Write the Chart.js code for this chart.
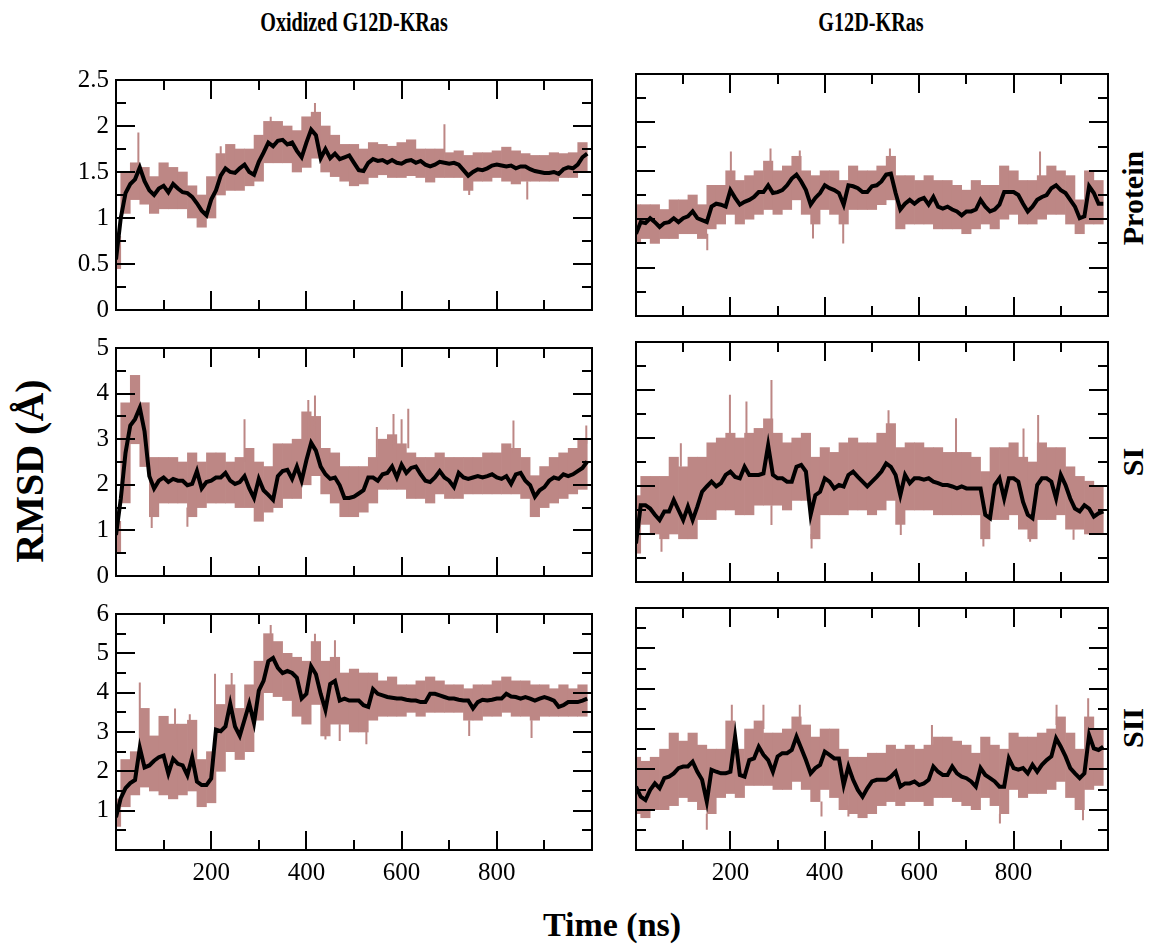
<!DOCTYPE html>
<html><head><meta charset="utf-8">
<script src="https://cdn.jsdelivr.net/npm/chart.js@4.4.0/dist/chart.umd.min.js"></script>
<style>
html,body{margin:0;padding:0;background:#fff;}
#wrap{position:relative;width:1151px;height:949px;overflow:hidden;background:#fff;}
canvas{position:absolute;}
.t{position:absolute;font-family:'Liberation Serif','Times New Roman',serif;font-weight:bold;color:#000;white-space:nowrap;transform-origin:center center;line-height:1;}
</style></head><body>
<div id="wrap">
<div class="t" style="left:354px;top:22px;font-size:28px;transform:translate(-50%,-50%) scaleX(0.72)">Oxidized G12D-KRas</div>
<div class="t" style="left:871px;top:22px;font-size:28px;transform:translate(-50%,-50%) scaleX(0.72)">G12D-KRas</div>
<div class="t" style="left:30px;top:471px;font-size:40px;transform:translate(-50%,-50%) rotate(-90deg)">RMSD (Å)</div>
<div class="t" style="left:612px;top:925px;font-size:34px;transform:translate(-50%,-50%)">Time (ns)</div>
<div class="t" style="left:1133px;top:198px;font-size:30px;transform:translate(-50%,-50%) rotate(-90deg)">Protein</div>
<div class="t" style="left:1133px;top:462px;font-size:30px;transform:translate(-50%,-50%) rotate(-90deg)">SI</div>
<div class="t" style="left:1133px;top:728px;font-size:30px;transform:translate(-50%,-50%) rotate(-90deg)">SII</div>
<canvas id="cA" width="546" height="274" style="left:56px;top:58px"></canvas>
<canvas id="cD" width="492" height="274" style="left:626px;top:58px"></canvas>
<canvas id="cB" width="546" height="272" style="left:56px;top:326px"></canvas>
<canvas id="cE" width="492" height="272" style="left:626px;top:326px"></canvas>
<canvas id="cC" width="546" height="302" style="left:56px;top:592px"></canvas>
<canvas id="cF" width="492" height="302" style="left:626px;top:592px"></canvas>
</div>
<script>
// ---- time axes (ns) ----
const TIME_10 = [0,10,20,30,40,50,60,70,80,90,100,110,120,130,140,150,160,170,180,190,200,210,220,230,240,250,260,270,280,290,300,310,320,330,340,350,360,370,380,390,400,410,420,430,440,450,460,470,480,490,500,510,520,530,540,550,560,570,580,590,600,610,620,630,640,650,660,670,680,690,700,710,720,730,740,750,760,770,780,790,800,810,820,830,840,850,860,870,880,890,900,910,920,930,940,950,960,970,980,990];
const TIME_20 = [0,20,40,60,80,100,120,140,160,180,200,220,240,260,280,300,320,340,360,380,400,420,440,460,480,500,520,540,560,580,600,620,640,660,680,700,720,740,760,780,800,820,840,860,880,900,920,940,960,980];
const X_TICK_LABELS = [200,400,600,800];

// ---- Oxidized G12D-KRas : Protein ----
const oxProteinMean = [0.55,1.0,1.27,1.37,1.42,1.55,1.4,1.3,1.25,1.32, 1.35,1.28,1.37,1.32,1.28,1.27,1.23,1.16,1.08,1.03, 1.2,1.3,1.46,1.54,1.5,1.49,1.54,1.58,1.5,1.47, 1.61,1.71,1.82,1.78,1.84,1.85,1.8,1.82,1.73,1.66, 1.82,1.96,1.9,1.65,1.75,1.65,1.7,1.64,1.66,1.68, 1.6,1.52,1.51,1.6,1.64,1.62,1.63,1.6,1.63,1.6, 1.59,1.62,1.63,1.6,1.62,1.58,1.56,1.58,1.61,1.6, 1.59,1.6,1.58,1.52,1.46,1.5,1.53,1.52,1.54,1.57, 1.58,1.57,1.56,1.57,1.54,1.56,1.56,1.53,1.51,1.5, 1.49,1.49,1.5,1.48,1.53,1.55,1.54,1.58,1.66,1.7];
const oxProteinHi = [0.8,1.5,1.6,1.55,1.45,1.6,1.55,1.5,1.35,1.25, 1.45,1.7,1.8,1.75,1.75,1.9,2.05,2.05,2.0,1.95, 2.1,2.15,2.0,1.9,1.8,1.8,1.75,1.82,1.8,1.78, 1.82,1.85,1.75,1.75,1.75,1.71,1.73,1.68,1.71,1.71, 1.73,1.77,1.73,1.7,1.68,1.68,1.71,1.7,1.71,1.82];
const oxProteinLo = [0.45,1.05,1.2,1.15,1.05,1.1,1.1,1.1,1.0,0.9, 1.0,1.25,1.3,1.3,1.35,1.4,1.6,1.6,1.6,1.5, 1.55,1.65,1.5,1.45,1.4,1.35,1.37,1.44,1.47,1.44, 1.44,1.46,1.44,1.39,1.44,1.44,1.44,1.3,1.4,1.4, 1.44,1.4,1.37,1.4,1.4,1.4,1.4,1.44,1.44,1.51];
const oxProteinSpikes = [[47,1.5,1.93],[220,1.5,1.78],[325,1.8,2.1],[418,1.9,2.25],[690,1.7,2.02],[742,1.25,1.45],[864,1.2,1.4]];

// ---- Oxidized G12D-KRas : SI ----
const oxSIMean = [0.9,1.69,2.7,3.3,3.44,3.69,3.17,2.19,1.92,2.09, 2.16,2.06,2.13,2.09,2.09,1.99,2.02,2.3,1.92,2.06, 2.09,2.16,2.16,2.26,2.09,2.02,2.06,2.19,1.92,1.71, 2.13,1.88,1.78,1.67,2.19,2.3,2.33,2.13,2.4,2.09, 2.54,2.92,2.75,2.4,2.23,2.13,2.16,1.99,1.71,1.71, 1.74,1.81,1.88,2.16,2.16,2.09,2.23,2.26,2.4,2.16, 2.44,2.26,2.37,2.4,2.23,2.09,2.06,2.16,2.3,2.16, 2.09,1.95,2.26,2.16,2.13,2.16,2.19,2.16,2.19,2.23, 2.16,2.13,2.19,2.02,2.23,2.26,2.09,1.99,1.74,1.88, 1.95,2.09,2.16,2.13,2.23,2.19,2.23,2.3,2.37,2.51];
const oxSIHi = [1.2,3.8,4.4,3.8,2.6,2.6,2.6,2.5,2.7,2.5, 2.7,2.7,2.5,2.6,2.8,2.5,2.4,2.9,2.9,3.0, 3.6,3.5,2.8,2.7,2.4,2.4,2.4,2.6,3.0,3.1, 2.9,2.7,2.6,2.6,2.7,2.6,2.6,2.6,2.6,2.7, 2.7,2.9,2.8,2.6,2.2,2.4,2.6,2.7,2.8,3.0];
const oxSILo = [0.5,1.6,2.9,2.4,1.3,1.6,1.6,1.6,1.3,1.5, 1.6,1.6,1.6,1.5,1.5,1.2,1.4,1.5,1.7,1.7, 2.0,2.2,1.8,1.6,1.3,1.3,1.4,1.6,1.9,1.9, 1.9,1.7,1.7,1.6,1.8,1.7,1.7,1.8,1.8,1.8, 1.8,1.8,1.8,1.7,1.3,1.5,1.6,1.7,1.8,1.9];
const oxSISpikes = [[270,2.5,3.44],[404,3.0,3.86],[418,3.0,3.96],[548,2.5,3.27],[583,2.8,3.55],[600,2.8,3.44],[614,2.8,3.67],[835,2.7,3.41],[75,1.05,1.5],[150,1.08,1.5],[988,2.9,3.3]];

// ---- Oxidized G12D-KRas : SII ----
const oxSIIMean = [0.83,1.32,1.57,1.7,1.78,2.6,2.1,2.15,2.27,2.36, 2.4,1.94,2.32,2.19,2.15,1.9,2.36,1.74,1.65,1.65, 1.82,3.06,3.02,3.14,3.72,3.14,2.9,3.31,3.72,3.23, 4.05,4.3,4.8,4.88,4.63,4.5,4.55,4.5,4.38,3.85, 3.97,4.67,4.47,3.97,3.56,4.22,4.3,3.8,3.85,3.8, 3.8,3.8,3.68,3.64,4.09,3.97,3.93,3.89,3.87,3.85, 3.85,3.82,3.8,3.8,3.76,3.76,3.97,3.97,3.93,3.89, 3.85,3.85,3.82,3.8,3.8,3.6,3.76,3.82,3.8,3.82, 3.85,3.85,3.97,3.9,3.89,3.85,3.89,3.85,3.8,3.85, 3.89,3.85,3.8,3.64,3.68,3.76,3.76,3.76,3.8,3.85];
const oxSIIHi = [1.3,2.3,2.5,3.6,2.9,3.4,3.2,3.2,3.3,2.3, 2.5,3.7,4.2,3.6,4.2,4.8,5.5,5.3,5.0,4.9, 4.8,5.3,4.8,4.9,4.5,4.6,4.5,4.5,4.3,4.4, 4.2,4.2,4.3,4.4,4.3,4.2,4.2,4.1,4.2,4.2, 4.3,4.4,4.3,4.3,4.2,4.2,4.1,4.2,4.1,4.2];
const oxSIILo = [0.6,1.1,1.4,1.6,1.5,1.4,1.3,1.4,1.5,1.1, 1.2,2.0,2.5,2.3,2.5,3.3,4.0,3.9,3.8,3.4, 3.2,3.7,2.9,3.2,3.2,3.0,3.0,3.3,3.4,3.4, 3.4,3.5,3.4,3.5,3.5,3.5,3.5,3.3,3.3,3.4, 3.4,3.5,3.4,3.4,3.3,3.4,3.4,3.4,3.4,3.4];
const oxSIISpikes = [[50,2.4,4.26],[124,2.8,3.6],[155,2.8,3.45],[208,3.0,4.48],[243,3.8,4.5],[325,5.0,5.72],[418,4.8,5.5],[460,4.6,5.33],[440,2.81,3.2],[470,2.77,3.2],[526,2.69,3.1],[742,2.9,3.3],[873,2.85,3.3]];

// ---- G12D-KRas : Protein ----
const wtProteinMean = [0.85,0.97,0.96,1.01,0.97,0.92,0.96,0.97,1.01,0.97, 1.01,1.03,1.08,1.01,0.99,0.97,1.13,1.16,1.15,1.13, 1.3,1.22,1.15,1.18,1.2,1.23,1.28,1.28,1.35,1.27, 1.28,1.3,1.35,1.42,1.46,1.39,1.3,1.15,1.22,1.27, 1.35,1.32,1.3,1.27,1.15,1.35,1.34,1.32,1.28,1.28, 1.34,1.35,1.39,1.46,1.47,1.27,1.1,1.16,1.2,1.16, 1.2,1.22,1.15,1.23,1.13,1.11,1.13,1.1,1.08,1.04, 1.08,1.08,1.1,1.2,1.13,1.08,1.1,1.15,1.28,1.28, 1.28,1.25,1.16,1.08,1.13,1.2,1.23,1.25,1.32,1.35, 1.3,1.27,1.2,1.13,1.01,1.03,1.34,1.27,1.16,1.16];
const wtProteinHi = [1.15,1.15,1.15,1.1,1.2,1.2,1.25,1.15,1.35,1.35, 1.5,1.4,1.45,1.5,1.6,1.5,1.55,1.65,1.5,1.45, 1.5,1.5,1.4,1.55,1.5,1.5,1.55,1.65,1.45,1.45, 1.4,1.45,1.4,1.4,1.35,1.3,1.4,1.35,1.35,1.55, 1.5,1.4,1.4,1.45,1.55,1.5,1.45,1.2,1.5,1.4];
const wtProteinLo = [0.75,0.8,0.75,0.8,0.8,0.85,0.85,0.8,0.9,0.95, 1.05,0.95,1.0,1.05,1.1,1.05,1.1,1.2,1.05,0.95, 1.1,1.05,0.95,1.1,1.1,1.1,1.15,1.2,0.9,0.95, 0.95,0.95,0.9,0.9,0.9,0.85,0.9,0.95,0.9,1.0, 1.05,0.95,0.95,1.0,1.05,1.05,0.95,0.85,0.95,0.95];
const wtProteinSpikes = [[201,1.4,1.7],[285,1.5,1.73],[347,1.5,1.71],[538,1.5,1.73],[856,1.4,1.7],[151,0.68,0.85],[439,0.75,0.95],[375,0.8,1.0]];

// ---- G12D-KRas : SI ----
const wtSIMean = [0.8,1.6,1.6,1.53,1.4,1.29,1.47,1.47,1.71,1.5, 1.29,1.57,1.29,1.57,1.88,1.99,2.09,1.99,2.06,2.23, 2.3,2.19,2.16,2.4,2.23,2.23,2.23,2.26,2.85,2.23, 2.16,2.16,2.09,2.09,2.4,2.44,2.3,1.4,1.81,1.88, 2.16,2.09,1.95,2.02,1.99,2.23,2.3,2.19,2.09,1.99, 2.09,2.19,2.3,2.47,2.4,2.23,1.81,2.23,2.06,2.16, 2.16,2.13,2.16,2.09,2.06,2.02,2.02,1.99,1.95,1.99, 1.95,1.95,1.95,1.95,1.4,1.33,2.02,2.16,1.74,2.16, 2.16,2.09,1.67,1.4,1.33,2.02,2.16,2.16,2.09,1.74, 2.23,2.02,1.74,1.53,1.47,1.6,1.53,1.36,1.43,1.47];
const wtSIHi = [1.8,2.2,2.2,2.2,2.6,2.4,2.6,2.6,2.9,3.0, 3.1,3.0,3.1,3.2,3.4,3.1,2.9,3.0,3.1,2.6, 2.8,2.7,2.9,3.0,2.9,2.9,3.1,3.3,2.8,2.9, 2.9,2.8,2.8,2.7,2.7,2.7,2.6,2.3,2.8,2.8, 2.9,2.6,2.5,2.9,2.8,2.8,2.4,2.2,2.1,2.0];
const wtSILo = [0.6,1.2,1.0,0.9,1.0,0.9,0.9,1.3,1.3,1.5, 1.5,1.4,1.4,1.6,1.6,1.6,1.5,1.7,1.7,0.9, 1.4,1.4,1.4,1.5,1.5,1.4,1.5,1.7,1.2,1.5, 1.5,1.5,1.4,1.4,1.4,1.4,1.4,0.9,1.3,1.3, 1.4,1.1,0.9,1.3,1.3,1.4,1.1,1.1,1.0,1.0];
const wtSISpikes = [[95,2.4,2.89],[199,3.0,3.9],[234,3.0,3.76],[287,3.3,4.21],[535,3.0,3.58],[678,2.6,3.41],[852,2.8,3.48],[821,2.5,3.2],[54,0.63,1.0],[287,1.19,1.6],[372,0.7,1.0],[561,0.98,1.3],[736,0.74,1.0],[835,0.84,1.1],[927,0.88,1.1]];

// ---- G12D-KRas : SII ----
const wtSIIMean = [1.57,1.32,1.24,1.49,1.65,1.53,1.78,1.82,1.9,2.03, 2.07,2.07,2.19,1.94,1.74,1.2,1.99,1.94,1.9,1.9, 1.94,2.81,1.86,1.82,2.23,2.27,2.56,2.36,2.23,1.94, 2.32,2.4,2.4,2.48,2.81,2.52,2.23,1.9,2.03,2.11, 2.44,2.36,2.27,2.27,1.61,2.07,1.74,1.49,1.32,1.53, 1.7,1.74,1.74,1.74,1.82,1.94,1.57,1.65,1.65,1.7, 1.61,1.65,1.74,2.07,1.94,1.86,1.86,2.07,1.9,1.82, 1.78,1.7,1.57,2.03,1.86,1.78,1.7,1.57,1.57,2.27, 2.03,1.99,2.03,1.9,2.11,1.94,2.11,2.23,2.32,2.77, 2.56,2.32,2.03,1.9,1.78,1.9,2.85,2.52,2.48,2.56];
const wtSIIHi = [2.3,2.2,2.3,2.5,2.9,2.7,2.9,2.6,2.5,2.5, 3.2,2.5,3.0,3.2,2.9,2.9,3.0,3.3,3.1,2.8, 3.0,3.0,2.5,2.3,2.3,2.4,2.4,2.6,2.5,2.6, 2.5,2.6,2.8,2.8,2.7,2.6,2.4,2.8,2.6,2.5, 2.9,2.8,2.8,2.9,3.0,3.3,2.9,2.5,3.3,3.0];
const wtSIILo = [0.9,0.8,1.0,1.0,1.1,1.3,1.2,1.0,0.9,1.3, 1.4,1.3,1.6,1.6,1.6,1.5,1.5,1.7,1.5,1.2, 1.5,1.3,1.0,0.9,0.8,0.9,1.1,1.2,1.1,1.2, 1.2,1.1,1.3,1.3,1.2,1.1,1.0,1.3,1.1,0.9, 1.5,1.3,1.4,1.4,1.5,1.7,1.3,1.0,1.5,1.6];
const wtSIISpikes = [[203,3.0,3.6],[270,3.0,3.6],[347,3.1,3.6],[891,3.1,3.6],[958,3.1,3.76],[627,2.6,3.1],[150,0.5,0.9],[393,0.83,1.2],[450,0.83,1.1],[771,0.66,0.9],[947,0.74,1.0]];

const PINK = 'rgb(189,135,133)';
const FONT = "'Liberation Serif','Times New Roman',serif";

const frameTicks = {
  id: 'frameTicks',
  afterDatasetsDraw(chart, args, o) {
    const {ctx, chartArea: a} = chart;
    const xs = chart.scales.x, ys = chart.scales.y;
    ctx.save();
    ctx.strokeStyle = '#000';
    ctx.lineWidth = 2;
    ctx.beginPath();
    for (const t of xs.ticks) {
      const p = Math.round(xs.getPixelForValue(t.value));
      if (p <= a.left + 2 || p >= a.right - 2) continue;
      const L = (Math.round(t.value) % 200 === 0) ? 19 : 10;
      ctx.moveTo(p, a.bottom); ctx.lineTo(p, a.bottom - L);
      ctx.moveTo(p, a.top); ctx.lineTo(p, a.top + L);
    }
    for (const t of ys.ticks) {
      const p = Math.round(ys.getPixelForValue(t.value));
      if (p <= a.top + 2 || p >= a.bottom - 2) continue;
      const r = t.value / o.yMajor;
      const L = Math.abs(r - Math.round(r)) < 1e-6 ? 19 : 10;
      ctx.moveTo(a.left, p); ctx.lineTo(a.left + L, p);
      ctx.moveTo(a.right, p); ctx.lineTo(a.right - L, p);
    }
    ctx.stroke();
    ctx.strokeRect(a.left, a.top, a.width, a.height);
    ctx.restore();
  }
};

function panel(id, mean, hi, lo, spikes, yMax, yStep, yMajor, col, row) {
  const showY = col === 0, showX = row === 2, hideZero = row === 2;
  const spikeData = [];
  spikes.forEach(([t, a, b]) => { spikeData.push({x: t, y: a}, {x: t, y: b}, {x: t, y: null}); });
  new Chart(document.getElementById(id), {
    type: 'bar',
    data: {datasets: [
      {type: 'line', data: TIME_10.map((t, i) => ({x: t, y: mean[i]})), borderColor: '#000', borderWidth: 4,
       pointRadius: 0, tension: 0, order: 0},
      {type: 'line', data: spikeData, borderColor: PINK, borderWidth: 2, pointRadius: 0, spanGaps: false, order: 1},
      {type: 'bar', data: TIME_20.map((t, i) => ({x: t, y: [lo[i], hi[i]]})), backgroundColor: PINK,
       borderWidth: 0, barPercentage: 1, categoryPercentage: 1, order: 2}
    ]},
    options: {
      responsive: false, animation: false, events: [],
      layout: {padding: {left: showY ? 0 : 10, right: 10, top: 16, bottom: showX ? 4 : 16}},
      plugins: {legend: {display: false}, tooltip: {enabled: false}, frameTicks: {yMajor}},
      scales: {
        x: {type: 'linear', min: 0, max: 1000, offset: false,
            grid: {display: false, drawTicks: false}, border: {display: false},
            ticks: {display: showX, stepSize: 100, autoSkip: false, maxRotation: 0, padding: 8, color: '#000',
                    font: {family: FONT, size: 25},
                    callback: v => X_TICK_LABELS.includes(v) ? String(v) : ''},
            afterFit(s) { s.height = showX ? 40 : 0; }},
        y: {type: 'linear', min: 0, max: yMax,
            grid: {display: false, drawTicks: false}, border: {display: false},
            ticks: {display: showY, stepSize: yStep, autoSkip: false, padding: 7, color: '#000',
                    font: {family: FONT, size: 25},
                    callback: v => {
                      const r = v / yMajor;
                      if (Math.abs(r - Math.round(r)) > 1e-6) return '';
                      if (hideZero && v === 0) return '';
                      return String(Math.round(v * 100) / 100);
                    }},
            afterFit(s) { s.width = showY ? 60 : 0; }}
      }
    },
    plugins: [frameTicks]
  });
}

panel('cA', oxProteinMean, oxProteinHi, oxProteinLo, oxProteinSpikes, 2.5, 0.25, 0.5, 0, 0);
panel('cD', wtProteinMean, wtProteinHi, wtProteinLo, wtProteinSpikes, 2.5, 0.25, 0.5, 1, 0);
panel('cB', oxSIMean, oxSIHi, oxSILo, oxSISpikes, 5, 0.5, 1, 0, 1);
panel('cE', wtSIMean, wtSIHi, wtSILo, wtSISpikes, 5, 0.5, 1, 1, 1);
panel('cC', oxSIIMean, oxSIIHi, oxSIILo, oxSIISpikes, 6, 0.5, 1, 0, 2);
panel('cF', wtSIIMean, wtSIIHi, wtSIILo, wtSIISpikes, 6, 0.5, 1, 1, 2);
</script>
</body></html>
